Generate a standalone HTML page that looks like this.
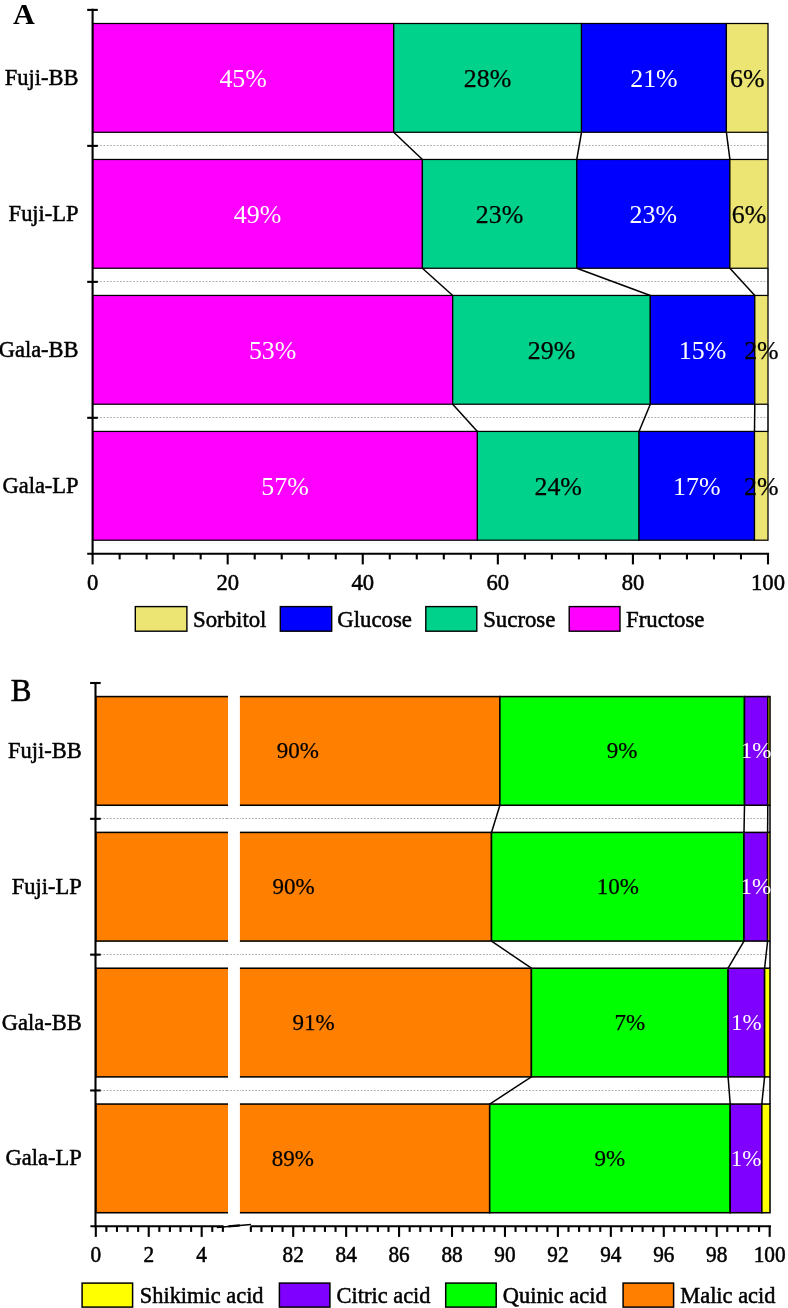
<!DOCTYPE html>
<html lang="en">
<head>
<meta charset="utf-8">
<title>Sugar and organic acid composition</title>
<style>
html, body { margin: 0; padding: 0; background: #ffffff; }
body { width: 788px; height: 1308px; overflow: hidden; }
svg { display: block; will-change: transform; }
svg text { font-family: "Liberation Serif", "Times New Roman", serif; }
</style>
</head>
<body>
<svg width="788" height="1308" viewBox="0 0 788 1308" shape-rendering="geometricPrecision">
<rect x="0" y="0" width="788" height="1308" fill="#ffffff"/>
<line x1="93.6" y1="145.5" x2="768" y2="145.5" stroke="#ababab" stroke-width="1" stroke-dasharray="1.7 1.6"/>
<line x1="93.6" y1="281.5" x2="768" y2="281.5" stroke="#ababab" stroke-width="1" stroke-dasharray="1.7 1.6"/>
<line x1="93.6" y1="417.5" x2="768" y2="417.5" stroke="#ababab" stroke-width="1" stroke-dasharray="1.7 1.6"/>
<rect x="92.6" y="23.5" width="301.1" height="108.78" fill="#FF00FF" stroke="#000" stroke-width="1.25"/>
<rect x="393.7" y="23.5" width="187.8" height="108.78" fill="#00D28C" stroke="#000" stroke-width="1.25"/>
<rect x="581.5" y="23.5" width="144.9" height="108.78" fill="#0000FF" stroke="#000" stroke-width="1.25"/>
<rect x="726.4" y="23.5" width="41.6" height="108.78" fill="#EDE573" stroke="#000" stroke-width="1.25"/>
<rect x="92.6" y="159.47" width="329.8" height="108.78" fill="#FF00FF" stroke="#000" stroke-width="1.25"/>
<rect x="422.4" y="159.47" width="154.4" height="108.78" fill="#00D28C" stroke="#000" stroke-width="1.25"/>
<rect x="576.8" y="159.47" width="153.1" height="108.78" fill="#0000FF" stroke="#000" stroke-width="1.25"/>
<rect x="729.9" y="159.47" width="38.1" height="108.78" fill="#EDE573" stroke="#000" stroke-width="1.25"/>
<rect x="92.6" y="295.45" width="360.1" height="108.78" fill="#FF00FF" stroke="#000" stroke-width="1.25"/>
<rect x="452.7" y="295.45" width="197.6" height="108.78" fill="#00D28C" stroke="#000" stroke-width="1.25"/>
<rect x="650.3" y="295.45" width="104.5" height="108.78" fill="#0000FF" stroke="#000" stroke-width="1.25"/>
<rect x="754.8" y="295.45" width="13.2" height="108.78" fill="#EDE573" stroke="#000" stroke-width="1.25"/>
<rect x="92.6" y="431.42" width="384.8" height="108.78" fill="#FF00FF" stroke="#000" stroke-width="1.25"/>
<rect x="477.4" y="431.42" width="161.6" height="108.78" fill="#00D28C" stroke="#000" stroke-width="1.25"/>
<rect x="639" y="431.42" width="115.5" height="108.78" fill="#0000FF" stroke="#000" stroke-width="1.25"/>
<rect x="754.5" y="431.42" width="13.5" height="108.78" fill="#EDE573" stroke="#000" stroke-width="1.25"/>
<line x1="393.7" y1="132.28" x2="422.4" y2="159.47" stroke="#000" stroke-width="1.5"/>
<line x1="581.5" y1="132.28" x2="576.8" y2="159.47" stroke="#000" stroke-width="1.5"/>
<line x1="726.4" y1="132.28" x2="729.9" y2="159.47" stroke="#000" stroke-width="1.5"/>
<line x1="768" y1="132.28" x2="768" y2="159.47" stroke="#000" stroke-width="1.5"/>
<line x1="422.4" y1="268.25" x2="452.7" y2="295.45" stroke="#000" stroke-width="1.5"/>
<line x1="576.8" y1="268.25" x2="650.3" y2="295.45" stroke="#000" stroke-width="1.5"/>
<line x1="729.9" y1="268.25" x2="754.8" y2="295.45" stroke="#000" stroke-width="1.5"/>
<line x1="768" y1="268.25" x2="768" y2="295.45" stroke="#000" stroke-width="1.5"/>
<line x1="452.7" y1="404.23" x2="477.4" y2="431.42" stroke="#000" stroke-width="1.5"/>
<line x1="650.3" y1="404.23" x2="639" y2="431.42" stroke="#000" stroke-width="1.5"/>
<line x1="754.8" y1="404.23" x2="754.5" y2="431.42" stroke="#000" stroke-width="1.5"/>
<line x1="768" y1="404.23" x2="768" y2="431.42" stroke="#000" stroke-width="1.5"/>
<text x="243.15" y="86.96" font-size="25.9" text-anchor="middle" fill="#fff">45%</text>
<text x="487.6" y="86.96" font-size="25.9" text-anchor="middle" fill="#000" stroke="#000" stroke-width="0.25">28%</text>
<text x="653.95" y="86.96" font-size="25.9" text-anchor="middle" fill="#fff">21%</text>
<text x="747.2" y="86.96" font-size="25.9" text-anchor="middle" fill="#000" stroke="#000" stroke-width="0.25">6%</text>
<text x="257.5" y="222.94" font-size="25.9" text-anchor="middle" fill="#fff">49%</text>
<text x="499.6" y="222.94" font-size="25.9" text-anchor="middle" fill="#000" stroke="#000" stroke-width="0.25">23%</text>
<text x="653.35" y="222.94" font-size="25.9" text-anchor="middle" fill="#fff">23%</text>
<text x="748.95" y="222.94" font-size="25.9" text-anchor="middle" fill="#000" stroke="#000" stroke-width="0.25">6%</text>
<text x="272.65" y="358.91" font-size="25.9" text-anchor="middle" fill="#fff">53%</text>
<text x="551.5" y="358.91" font-size="25.9" text-anchor="middle" fill="#000" stroke="#000" stroke-width="0.25">29%</text>
<text x="702.55" y="358.91" font-size="25.9" text-anchor="middle" fill="#fff">15%</text>
<text x="761.4" y="358.91" font-size="25.9" text-anchor="middle" fill="#000" stroke="#000" stroke-width="0.25">2%</text>
<text x="285" y="494.89" font-size="25.9" text-anchor="middle" fill="#fff">57%</text>
<text x="558.2" y="494.89" font-size="25.9" text-anchor="middle" fill="#000" stroke="#000" stroke-width="0.25">24%</text>
<text x="696.75" y="494.89" font-size="25.9" text-anchor="middle" fill="#fff">17%</text>
<text x="761.25" y="494.89" font-size="25.9" text-anchor="middle" fill="#000" stroke="#000" stroke-width="0.25">2%</text>
<line x1="92.6" y1="8.85" x2="92.6" y2="554.85" stroke="#000" stroke-width="2.1"/>
<line x1="87.2" y1="9.9" x2="97.8" y2="9.9" stroke="#000" stroke-width="2.1"/>
<line x1="87.2" y1="145.88" x2="97.8" y2="145.88" stroke="#000" stroke-width="2.1"/>
<line x1="87.2" y1="281.85" x2="97.8" y2="281.85" stroke="#000" stroke-width="2.1"/>
<line x1="87.2" y1="417.82" x2="97.8" y2="417.82" stroke="#000" stroke-width="2.1"/>
<text transform="translate(78.6 84.86) scale(1 1.04)" font-size="22.5" text-anchor="end" fill="#000" stroke="#000" stroke-width="0.5">Fuji-BB</text>
<text transform="translate(78.6 220.84) scale(1 1.04)" font-size="22.5" text-anchor="end" fill="#000" stroke="#000" stroke-width="0.5">Fuji-LP</text>
<text transform="translate(78.6 356.81) scale(1 1.04)" font-size="22.5" text-anchor="end" fill="#000" stroke="#000" stroke-width="0.5">Gala-BB</text>
<text transform="translate(78.6 492.79) scale(1 1.04)" font-size="22.5" text-anchor="end" fill="#000" stroke="#000" stroke-width="0.5">Gala-LP</text>
<line x1="87.2" y1="553.8" x2="769.05" y2="553.8" stroke="#000" stroke-width="2.1"/>
<line x1="92.6" y1="553.8" x2="92.6" y2="564.4" stroke="#000" stroke-width="2.1"/>
<text transform="translate(92.6 590) scale(1 1.04)" font-size="22.6" text-anchor="middle" fill="#000" stroke="#000" stroke-width="0.5">0</text>
<line x1="119.62" y1="553.8" x2="119.62" y2="559.4" stroke="#000" stroke-width="2.1"/>
<line x1="146.63" y1="553.8" x2="146.63" y2="559.4" stroke="#000" stroke-width="2.1"/>
<line x1="173.65" y1="553.8" x2="173.65" y2="559.4" stroke="#000" stroke-width="2.1"/>
<line x1="200.66" y1="553.8" x2="200.66" y2="559.4" stroke="#000" stroke-width="2.1"/>
<line x1="227.68" y1="553.8" x2="227.68" y2="564.4" stroke="#000" stroke-width="2.1"/>
<text transform="translate(227.68 590) scale(1 1.04)" font-size="22.6" text-anchor="middle" fill="#000" stroke="#000" stroke-width="0.5">20</text>
<line x1="254.7" y1="553.8" x2="254.7" y2="559.4" stroke="#000" stroke-width="2.1"/>
<line x1="281.71" y1="553.8" x2="281.71" y2="559.4" stroke="#000" stroke-width="2.1"/>
<line x1="308.73" y1="553.8" x2="308.73" y2="559.4" stroke="#000" stroke-width="2.1"/>
<line x1="335.74" y1="553.8" x2="335.74" y2="559.4" stroke="#000" stroke-width="2.1"/>
<line x1="362.76" y1="553.8" x2="362.76" y2="564.4" stroke="#000" stroke-width="2.1"/>
<text transform="translate(362.76 590) scale(1 1.04)" font-size="22.6" text-anchor="middle" fill="#000" stroke="#000" stroke-width="0.5">40</text>
<line x1="389.78" y1="553.8" x2="389.78" y2="559.4" stroke="#000" stroke-width="2.1"/>
<line x1="416.79" y1="553.8" x2="416.79" y2="559.4" stroke="#000" stroke-width="2.1"/>
<line x1="443.81" y1="553.8" x2="443.81" y2="559.4" stroke="#000" stroke-width="2.1"/>
<line x1="470.82" y1="553.8" x2="470.82" y2="559.4" stroke="#000" stroke-width="2.1"/>
<line x1="497.84" y1="553.8" x2="497.84" y2="564.4" stroke="#000" stroke-width="2.1"/>
<text transform="translate(497.84 590) scale(1 1.04)" font-size="22.6" text-anchor="middle" fill="#000" stroke="#000" stroke-width="0.5">60</text>
<line x1="524.86" y1="553.8" x2="524.86" y2="559.4" stroke="#000" stroke-width="2.1"/>
<line x1="551.87" y1="553.8" x2="551.87" y2="559.4" stroke="#000" stroke-width="2.1"/>
<line x1="578.89" y1="553.8" x2="578.89" y2="559.4" stroke="#000" stroke-width="2.1"/>
<line x1="605.9" y1="553.8" x2="605.9" y2="559.4" stroke="#000" stroke-width="2.1"/>
<line x1="632.92" y1="553.8" x2="632.92" y2="564.4" stroke="#000" stroke-width="2.1"/>
<text transform="translate(632.92 590) scale(1 1.04)" font-size="22.6" text-anchor="middle" fill="#000" stroke="#000" stroke-width="0.5">80</text>
<line x1="659.94" y1="553.8" x2="659.94" y2="559.4" stroke="#000" stroke-width="2.1"/>
<line x1="686.95" y1="553.8" x2="686.95" y2="559.4" stroke="#000" stroke-width="2.1"/>
<line x1="713.97" y1="553.8" x2="713.97" y2="559.4" stroke="#000" stroke-width="2.1"/>
<line x1="740.98" y1="553.8" x2="740.98" y2="559.4" stroke="#000" stroke-width="2.1"/>
<line x1="768" y1="553.8" x2="768" y2="564.4" stroke="#000" stroke-width="2.1"/>
<text transform="translate(768 590) scale(1 1.04)" font-size="22.6" text-anchor="middle" fill="#000" stroke="#000" stroke-width="0.5">100</text>
<rect x="135.3" y="606.6" width="51.6" height="24.6" fill="#EDE573" stroke="#000" stroke-width="1.4"/>
<text transform="translate(193 626.5) scale(1 1.04)" font-size="22.8" text-anchor="start" fill="#000" stroke="#000" stroke-width="0.5">Sorbitol</text>
<rect x="280.3" y="606.6" width="51.4" height="24.6" fill="#0000FF" stroke="#000" stroke-width="1.4"/>
<text transform="translate(337.2 626.5) scale(1 1.04)" font-size="22.8" text-anchor="start" fill="#000" stroke="#000" stroke-width="0.5">Glucose</text>
<rect x="425.8" y="606.6" width="51" height="24.6" fill="#00D28C" stroke="#000" stroke-width="1.4"/>
<text transform="translate(483.2 626.5) scale(1 1.04)" font-size="22.8" text-anchor="start" fill="#000" stroke="#000" stroke-width="0.5">Sucrose</text>
<rect x="569.2" y="606.6" width="50.8" height="24.6" fill="#FF00FF" stroke="#000" stroke-width="1.4"/>
<text transform="translate(626 626.5) scale(1 1.04)" font-size="22.8" text-anchor="start" fill="#000" stroke="#000" stroke-width="0.5">Fructose</text>
<text x="13" y="23.5" font-size="30.2" text-anchor="start" fill="#000" font-weight="bold">A</text>
<line x1="96.8" y1="818.5" x2="770" y2="818.5" stroke="#ababab" stroke-width="1" stroke-dasharray="1.7 1.6"/>
<line x1="96.8" y1="954.5" x2="770" y2="954.5" stroke="#ababab" stroke-width="1" stroke-dasharray="1.7 1.6"/>
<line x1="96.8" y1="1090.5" x2="770" y2="1090.5" stroke="#ababab" stroke-width="1" stroke-dasharray="1.7 1.6"/>
<rect x="95.8" y="696.58" width="404.1" height="108.66" fill="#FF8000" stroke="#000" stroke-width="1.55"/>
<rect x="499.9" y="696.58" width="244.6" height="108.66" fill="#00FF00" stroke="#000" stroke-width="1.55"/>
<rect x="744.5" y="696.58" width="23.3" height="108.66" fill="#8000FF" stroke="#000" stroke-width="1.55"/>
<rect x="767.8" y="696.58" width="2.2" height="108.66" fill="#FFFF00" stroke="#000" stroke-width="1.55"/>
<rect x="95.8" y="832.41" width="395.7" height="108.66" fill="#FF8000" stroke="#000" stroke-width="1.55"/>
<rect x="491.5" y="832.41" width="252.5" height="108.66" fill="#00FF00" stroke="#000" stroke-width="1.55"/>
<rect x="744" y="832.41" width="23.6" height="108.66" fill="#8000FF" stroke="#000" stroke-width="1.55"/>
<rect x="767.6" y="832.41" width="2.4" height="108.66" fill="#FFFF00" stroke="#000" stroke-width="1.55"/>
<rect x="95.8" y="968.23" width="435.6" height="108.66" fill="#FF8000" stroke="#000" stroke-width="1.55"/>
<rect x="531.4" y="968.23" width="196.7" height="108.66" fill="#00FF00" stroke="#000" stroke-width="1.55"/>
<rect x="728.1" y="968.23" width="36.5" height="108.66" fill="#8000FF" stroke="#000" stroke-width="1.55"/>
<rect x="764.6" y="968.23" width="5.4" height="108.66" fill="#FFFF00" stroke="#000" stroke-width="1.55"/>
<rect x="95.8" y="1104.06" width="393.9" height="108.66" fill="#FF8000" stroke="#000" stroke-width="1.55"/>
<rect x="489.7" y="1104.06" width="240.5" height="108.66" fill="#00FF00" stroke="#000" stroke-width="1.55"/>
<rect x="730.2" y="1104.06" width="31.6" height="108.66" fill="#8000FF" stroke="#000" stroke-width="1.55"/>
<rect x="761.8" y="1104.06" width="8.2" height="108.66" fill="#FFFF00" stroke="#000" stroke-width="1.55"/>
<line x1="499.9" y1="805.24" x2="491.5" y2="832.41" stroke="#000" stroke-width="1.5"/>
<line x1="744.5" y1="805.24" x2="744" y2="832.41" stroke="#000" stroke-width="1.5"/>
<line x1="767.8" y1="805.24" x2="767.6" y2="832.41" stroke="#000" stroke-width="1.5"/>
<line x1="770" y1="805.24" x2="770" y2="832.41" stroke="#000" stroke-width="1.5"/>
<line x1="491.5" y1="941.07" x2="531.4" y2="968.23" stroke="#000" stroke-width="1.5"/>
<line x1="744" y1="941.07" x2="728.1" y2="968.23" stroke="#000" stroke-width="1.5"/>
<line x1="767.6" y1="941.07" x2="764.6" y2="968.23" stroke="#000" stroke-width="1.5"/>
<line x1="770" y1="941.07" x2="770" y2="968.23" stroke="#000" stroke-width="1.5"/>
<line x1="531.4" y1="1076.89" x2="489.7" y2="1104.06" stroke="#000" stroke-width="1.5"/>
<line x1="728.1" y1="1076.89" x2="730.2" y2="1104.06" stroke="#000" stroke-width="1.5"/>
<line x1="764.6" y1="1076.89" x2="761.8" y2="1104.06" stroke="#000" stroke-width="1.5"/>
<line x1="770" y1="1076.89" x2="770" y2="1104.06" stroke="#000" stroke-width="1.5"/>
<rect x="228" y="685" width="11.9" height="539.3" fill="#fff"/>
<line x1="227" y1="818.5" x2="240.9" y2="818.5" stroke="#ababab" stroke-width="1" stroke-dasharray="1.7 1.6"/>
<line x1="227" y1="954.5" x2="240.9" y2="954.5" stroke="#ababab" stroke-width="1" stroke-dasharray="1.7 1.6"/>
<line x1="227" y1="1090.5" x2="240.9" y2="1090.5" stroke="#ababab" stroke-width="1" stroke-dasharray="1.7 1.6"/>
<text x="297.85" y="758.32" font-size="23" text-anchor="middle" fill="#000" stroke="#000" stroke-width="0.25">90%</text>
<text x="622.2" y="758.32" font-size="23" text-anchor="middle" fill="#000" stroke="#000" stroke-width="0.25">9%</text>
<text x="756.15" y="758.32" font-size="23" text-anchor="middle" fill="#fff">1%</text>
<text x="293.65" y="894.14" font-size="23" text-anchor="middle" fill="#000" stroke="#000" stroke-width="0.25">90%</text>
<text x="617.75" y="894.14" font-size="23" text-anchor="middle" fill="#000" stroke="#000" stroke-width="0.25">10%</text>
<text x="755.8" y="894.14" font-size="23" text-anchor="middle" fill="#fff">1%</text>
<text x="313.6" y="1029.97" font-size="23" text-anchor="middle" fill="#000" stroke="#000" stroke-width="0.25">91%</text>
<text x="629.75" y="1029.97" font-size="23" text-anchor="middle" fill="#000" stroke="#000" stroke-width="0.25">7%</text>
<text x="746.35" y="1029.97" font-size="23" text-anchor="middle" fill="#fff">1%</text>
<text x="292.75" y="1165.79" font-size="23" text-anchor="middle" fill="#000" stroke="#000" stroke-width="0.25">89%</text>
<text x="609.95" y="1165.79" font-size="23" text-anchor="middle" fill="#000" stroke="#000" stroke-width="0.25">9%</text>
<text x="746" y="1165.79" font-size="23" text-anchor="middle" fill="#fff">1%</text>
<line x1="95.5" y1="681.95" x2="95.5" y2="1227.35" stroke="#000" stroke-width="2.1"/>
<line x1="90.1" y1="683" x2="100.7" y2="683" stroke="#000" stroke-width="2.1"/>
<line x1="90.1" y1="818.83" x2="100.7" y2="818.83" stroke="#000" stroke-width="2.1"/>
<line x1="90.1" y1="954.65" x2="100.7" y2="954.65" stroke="#000" stroke-width="2.1"/>
<line x1="90.1" y1="1090.47" x2="100.7" y2="1090.47" stroke="#000" stroke-width="2.1"/>
<text transform="translate(81.8 757.89) scale(1 1.04)" font-size="22.5" text-anchor="end" fill="#000" stroke="#000" stroke-width="0.5">Fuji-BB</text>
<text transform="translate(81.8 893.71) scale(1 1.04)" font-size="22.5" text-anchor="end" fill="#000" stroke="#000" stroke-width="0.5">Fuji-LP</text>
<text transform="translate(81.8 1029.54) scale(1 1.04)" font-size="22.5" text-anchor="end" fill="#000" stroke="#000" stroke-width="0.5">Gala-BB</text>
<text transform="translate(81.8 1165.36) scale(1 1.04)" font-size="22.5" text-anchor="end" fill="#000" stroke="#000" stroke-width="0.5">Gala-LP</text>
<line x1="90.4" y1="1226.3" x2="223.6" y2="1226.3" stroke="#000" stroke-width="2.1"/>
<line x1="250.6" y1="1226.3" x2="771.05" y2="1226.3" stroke="#000" stroke-width="2.1"/>
<line x1="216.8" y1="1227.4" x2="251" y2="1224.4" stroke="#000" stroke-width="1.5"/>
<line x1="228.5" y1="1226.4" x2="239.8" y2="1225.4" stroke="#000" stroke-width="2.3"/>
<line x1="95.8" y1="1226.3" x2="95.8" y2="1236.9" stroke="#000" stroke-width="2.1"/>
<text transform="translate(95.8 1261.9) scale(1 1.04)" font-size="21.3" text-anchor="middle" fill="#000" stroke="#000" stroke-width="0.5">0</text>
<line x1="106.39" y1="1226.3" x2="106.39" y2="1231.9" stroke="#000" stroke-width="2.1"/>
<line x1="116.98" y1="1226.3" x2="116.98" y2="1231.9" stroke="#000" stroke-width="2.1"/>
<line x1="127.56" y1="1226.3" x2="127.56" y2="1231.9" stroke="#000" stroke-width="2.1"/>
<line x1="138.15" y1="1226.3" x2="138.15" y2="1231.9" stroke="#000" stroke-width="2.1"/>
<line x1="148.74" y1="1226.3" x2="148.74" y2="1236.9" stroke="#000" stroke-width="2.1"/>
<text transform="translate(148.74 1261.9) scale(1 1.04)" font-size="21.3" text-anchor="middle" fill="#000" stroke="#000" stroke-width="0.5">2</text>
<line x1="159.33" y1="1226.3" x2="159.33" y2="1231.9" stroke="#000" stroke-width="2.1"/>
<line x1="169.92" y1="1226.3" x2="169.92" y2="1231.9" stroke="#000" stroke-width="2.1"/>
<line x1="180.5" y1="1226.3" x2="180.5" y2="1231.9" stroke="#000" stroke-width="2.1"/>
<line x1="191.09" y1="1226.3" x2="191.09" y2="1231.9" stroke="#000" stroke-width="2.1"/>
<line x1="201.68" y1="1226.3" x2="201.68" y2="1236.9" stroke="#000" stroke-width="2.1"/>
<text transform="translate(201.68 1261.9) scale(1 1.04)" font-size="21.3" text-anchor="middle" fill="#000" stroke="#000" stroke-width="0.5">4</text>
<line x1="212.27" y1="1226.3" x2="212.27" y2="1231.9" stroke="#000" stroke-width="2.1"/>
<line x1="222.86" y1="1226.3" x2="222.86" y2="1231.9" stroke="#000" stroke-width="2.1"/>
<line x1="250.85" y1="1226.3" x2="250.85" y2="1231.9" stroke="#000" stroke-width="2.1"/>
<line x1="261.44" y1="1226.3" x2="261.44" y2="1231.9" stroke="#000" stroke-width="2.1"/>
<line x1="272.02" y1="1226.3" x2="272.02" y2="1231.9" stroke="#000" stroke-width="2.1"/>
<line x1="282.61" y1="1226.3" x2="282.61" y2="1231.9" stroke="#000" stroke-width="2.1"/>
<line x1="293.2" y1="1226.3" x2="293.2" y2="1236.9" stroke="#000" stroke-width="2.1"/>
<text transform="translate(293.2 1261.9) scale(1 1.04)" font-size="21.3" text-anchor="middle" fill="#000" stroke="#000" stroke-width="0.5">82</text>
<line x1="303.79" y1="1226.3" x2="303.79" y2="1231.9" stroke="#000" stroke-width="2.1"/>
<line x1="314.38" y1="1226.3" x2="314.38" y2="1231.9" stroke="#000" stroke-width="2.1"/>
<line x1="324.96" y1="1226.3" x2="324.96" y2="1231.9" stroke="#000" stroke-width="2.1"/>
<line x1="335.55" y1="1226.3" x2="335.55" y2="1231.9" stroke="#000" stroke-width="2.1"/>
<line x1="346.14" y1="1226.3" x2="346.14" y2="1236.9" stroke="#000" stroke-width="2.1"/>
<text transform="translate(346.14 1261.9) scale(1 1.04)" font-size="21.3" text-anchor="middle" fill="#000" stroke="#000" stroke-width="0.5">84</text>
<line x1="356.73" y1="1226.3" x2="356.73" y2="1231.9" stroke="#000" stroke-width="2.1"/>
<line x1="367.32" y1="1226.3" x2="367.32" y2="1231.9" stroke="#000" stroke-width="2.1"/>
<line x1="377.9" y1="1226.3" x2="377.9" y2="1231.9" stroke="#000" stroke-width="2.1"/>
<line x1="388.49" y1="1226.3" x2="388.49" y2="1231.9" stroke="#000" stroke-width="2.1"/>
<line x1="399.08" y1="1226.3" x2="399.08" y2="1236.9" stroke="#000" stroke-width="2.1"/>
<text transform="translate(399.08 1261.9) scale(1 1.04)" font-size="21.3" text-anchor="middle" fill="#000" stroke="#000" stroke-width="0.5">86</text>
<line x1="409.67" y1="1226.3" x2="409.67" y2="1231.9" stroke="#000" stroke-width="2.1"/>
<line x1="420.26" y1="1226.3" x2="420.26" y2="1231.9" stroke="#000" stroke-width="2.1"/>
<line x1="430.84" y1="1226.3" x2="430.84" y2="1231.9" stroke="#000" stroke-width="2.1"/>
<line x1="441.43" y1="1226.3" x2="441.43" y2="1231.9" stroke="#000" stroke-width="2.1"/>
<line x1="452.02" y1="1226.3" x2="452.02" y2="1236.9" stroke="#000" stroke-width="2.1"/>
<text transform="translate(452.02 1261.9) scale(1 1.04)" font-size="21.3" text-anchor="middle" fill="#000" stroke="#000" stroke-width="0.5">88</text>
<line x1="462.61" y1="1226.3" x2="462.61" y2="1231.9" stroke="#000" stroke-width="2.1"/>
<line x1="473.2" y1="1226.3" x2="473.2" y2="1231.9" stroke="#000" stroke-width="2.1"/>
<line x1="483.78" y1="1226.3" x2="483.78" y2="1231.9" stroke="#000" stroke-width="2.1"/>
<line x1="494.37" y1="1226.3" x2="494.37" y2="1231.9" stroke="#000" stroke-width="2.1"/>
<line x1="504.96" y1="1226.3" x2="504.96" y2="1236.9" stroke="#000" stroke-width="2.1"/>
<text transform="translate(504.96 1261.9) scale(1 1.04)" font-size="21.3" text-anchor="middle" fill="#000" stroke="#000" stroke-width="0.5">90</text>
<line x1="515.55" y1="1226.3" x2="515.55" y2="1231.9" stroke="#000" stroke-width="2.1"/>
<line x1="526.14" y1="1226.3" x2="526.14" y2="1231.9" stroke="#000" stroke-width="2.1"/>
<line x1="536.72" y1="1226.3" x2="536.72" y2="1231.9" stroke="#000" stroke-width="2.1"/>
<line x1="547.31" y1="1226.3" x2="547.31" y2="1231.9" stroke="#000" stroke-width="2.1"/>
<line x1="557.9" y1="1226.3" x2="557.9" y2="1236.9" stroke="#000" stroke-width="2.1"/>
<text transform="translate(557.9 1261.9) scale(1 1.04)" font-size="21.3" text-anchor="middle" fill="#000" stroke="#000" stroke-width="0.5">92</text>
<line x1="568.49" y1="1226.3" x2="568.49" y2="1231.9" stroke="#000" stroke-width="2.1"/>
<line x1="579.08" y1="1226.3" x2="579.08" y2="1231.9" stroke="#000" stroke-width="2.1"/>
<line x1="589.66" y1="1226.3" x2="589.66" y2="1231.9" stroke="#000" stroke-width="2.1"/>
<line x1="600.25" y1="1226.3" x2="600.25" y2="1231.9" stroke="#000" stroke-width="2.1"/>
<line x1="610.84" y1="1226.3" x2="610.84" y2="1236.9" stroke="#000" stroke-width="2.1"/>
<text transform="translate(610.84 1261.9) scale(1 1.04)" font-size="21.3" text-anchor="middle" fill="#000" stroke="#000" stroke-width="0.5">94</text>
<line x1="621.43" y1="1226.3" x2="621.43" y2="1231.9" stroke="#000" stroke-width="2.1"/>
<line x1="632.02" y1="1226.3" x2="632.02" y2="1231.9" stroke="#000" stroke-width="2.1"/>
<line x1="642.6" y1="1226.3" x2="642.6" y2="1231.9" stroke="#000" stroke-width="2.1"/>
<line x1="653.19" y1="1226.3" x2="653.19" y2="1231.9" stroke="#000" stroke-width="2.1"/>
<line x1="663.78" y1="1226.3" x2="663.78" y2="1236.9" stroke="#000" stroke-width="2.1"/>
<text transform="translate(663.78 1261.9) scale(1 1.04)" font-size="21.3" text-anchor="middle" fill="#000" stroke="#000" stroke-width="0.5">96</text>
<line x1="674.37" y1="1226.3" x2="674.37" y2="1231.9" stroke="#000" stroke-width="2.1"/>
<line x1="684.96" y1="1226.3" x2="684.96" y2="1231.9" stroke="#000" stroke-width="2.1"/>
<line x1="695.54" y1="1226.3" x2="695.54" y2="1231.9" stroke="#000" stroke-width="2.1"/>
<line x1="706.13" y1="1226.3" x2="706.13" y2="1231.9" stroke="#000" stroke-width="2.1"/>
<line x1="716.72" y1="1226.3" x2="716.72" y2="1236.9" stroke="#000" stroke-width="2.1"/>
<text transform="translate(716.72 1261.9) scale(1 1.04)" font-size="21.3" text-anchor="middle" fill="#000" stroke="#000" stroke-width="0.5">98</text>
<line x1="727.31" y1="1226.3" x2="727.31" y2="1231.9" stroke="#000" stroke-width="2.1"/>
<line x1="737.9" y1="1226.3" x2="737.9" y2="1231.9" stroke="#000" stroke-width="2.1"/>
<line x1="748.48" y1="1226.3" x2="748.48" y2="1231.9" stroke="#000" stroke-width="2.1"/>
<line x1="759.07" y1="1226.3" x2="759.07" y2="1231.9" stroke="#000" stroke-width="2.1"/>
<line x1="769.66" y1="1226.3" x2="769.66" y2="1236.9" stroke="#000" stroke-width="2.1"/>
<text transform="translate(769.66 1261.9) scale(1 1.04)" font-size="21.3" text-anchor="middle" fill="#000" stroke="#000" stroke-width="0.5">100</text>
<rect x="82.1" y="1283.1" width="50.5" height="24" fill="#FFFF00" stroke="#000" stroke-width="1.5"/>
<text transform="translate(139.8 1303) scale(1 1.04)" font-size="22.4" text-anchor="start" fill="#000" stroke="#000" stroke-width="0.5">Shikimic acid</text>
<rect x="279.4" y="1283.1" width="50.5" height="24" fill="#8000FF" stroke="#000" stroke-width="1.5"/>
<text transform="translate(336.6 1303) scale(1 1.04)" font-size="22.4" text-anchor="start" fill="#000" stroke="#000" stroke-width="0.5">Citric acid</text>
<rect x="445.7" y="1283.1" width="50.5" height="24" fill="#00FF00" stroke="#000" stroke-width="1.5"/>
<text transform="translate(502.8 1303) scale(1 1.04)" font-size="22.4" text-anchor="start" fill="#000" stroke="#000" stroke-width="0.5">Quinic acid</text>
<rect x="623.1" y="1283.1" width="50.5" height="24" fill="#FF8000" stroke="#000" stroke-width="1.5"/>
<text transform="translate(680.3 1303) scale(1 1.04)" font-size="22.4" text-anchor="start" fill="#000" stroke="#000" stroke-width="0.5">Malic acid</text>
<text x="10.7" y="701.2" font-size="31" text-anchor="start" fill="#000" stroke="#000" stroke-width="0.6">B</text>
</svg>
</body>
</html>
